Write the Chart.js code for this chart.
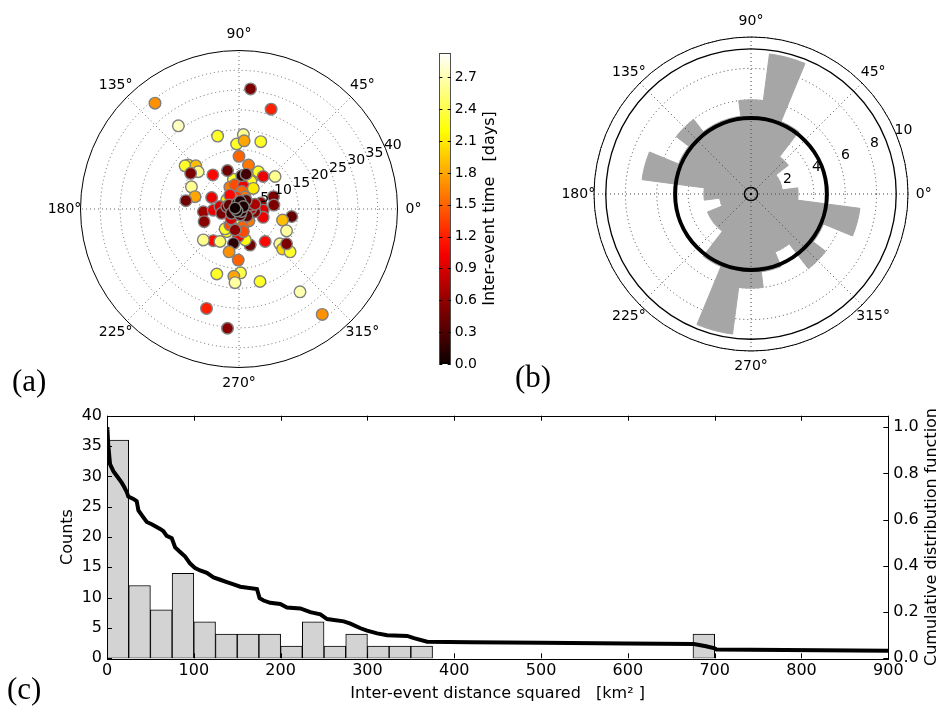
<!DOCTYPE html>
<html>
<head>
<meta charset="utf-8">
<script src="https://cdn.jsdelivr.net/npm/chart.js@4.4.1/dist/chart.umd.min.js"></script>
<style>
  body { margin: 0; background: #fff; width: 939px; height: 707px; position: relative; overflow: hidden; }
  canvas { position: absolute; }
</style>
</head>
<body>
<canvas id="polar" width="430" height="400" style="left:0;top:0"></canvas>
<canvas id="cbar" width="100" height="400" style="left:430px;top:0"></canvas>
<canvas id="rose" width="469" height="400" style="left:470px;top:0"></canvas>
<canvas id="hist" width="939" height="307" style="left:0;top:400px"></canvas>
<script>
// (a) event positions relative to the reference event (east / north, same units as r) and time gap
const pointEast = [2.9, 8.1, -21.2, -15.3, -5.4, 1.1, 5.5, -0.6, 1.3, 0.0, 2.4, -12.8, -13.6, -10.9, -10.3, -12.2, -6.6, -1.4, 3.6, 4.9,
  3.0, 6.1, 9.1, -2.9, -12.0, -11.1, -13.4, -2.3, -1.0, 1.1, 3.6, 0.7, 1.5, -0.6, -1.4, -3.1, -6.9, -2.3, 8.7, 8.8,
  5.5, 6.1, 6.1, 13.3, 11.0, 12.0, 10.3, 11.0, 12.9, 12.0, 6.6, 2.8, 1.6, -0.2, -3.1, -3.5, -2.3, -1.5, 0.6, 2.5,
  0.9, 1.1, -1.0, -6.5, -9.0, -4.8, -1.4, -2.5, -0.2, -5.6, 0.4, -1.3, -1.0, 5.3, 15.4, 21.0, -8.2, -2.9, -9.0, -8.8,
  -6.5, -4.8, -4.4, -3.1, -2.0, 4.0, 3.0, 2.8, 4.0, 2.0, -2.5, 1.8, 0.7, 1.8, -1.9, 0.3, -0.4, 0.3, 0.6, 1.1,
  -0.5, -1.0];
const pointNorth = [30.3, 25.2, 26.7, 21.0, 18.4, 18.8, 17.0, 16.4, 17.2, 13.3, 11.1, 11.1, 10.9, 10.9, 9.4, 9.0, 8.6, 7.5, 8.2, 9.4,
  7.0, 8.2, 8.2, 9.7, 5.6, 3.1, 2.1, 5.5, 6.1, 5.8, 5.2, 4.4, 3.0, 3.0, 2.3, 2.3, 2.9, 3.5, 3.1, 1.0,
  1.5, -0.3, -2.1, -1.9, -2.8, -5.5, -8.8, -10.1, -10.8, -8.8, -8.2, -9.1, -7.8, -7.0, -5.7, -5.0, -4.0, -3.0, -3.0, -3.0,
  -4.5, -5.7, -5.3, -8.0, -7.8, -8.2, -8.7, -10.8, -12.9, -16.4, -16.1, -17.0, -18.6, -18.3, -20.9, -26.6, -25.1, -30.1, -0.7, -3.2,
  -0.3, 0.6, -1.1, 0.6, -2.5, -0.7, 0.0, 1.0, 1.2, -1.8, 1.0, 2.2, 8.4, 8.8, -1.1, -1.5, 1.4, 1.9, -0.6, 0.6,
  -0.5, 0.2];
const pointDays = [0.5, 1.2, 1.7, 2.75, 2.3, 2.6, 2.3, 2.3, 1.8, 1.5, 1.6, 2.1, 2.3, 1.9, 2.6, 0.5, 1.1, 2.3, 2.2, 2.3,
  2.3, 1.0, 2.6, 0.45, 2.6, 1.8, 0.45, 1.6, 1.4, 1.0, 2.1, 1.5, 1.6, 1.3, 1.6, 2.1, 1.0, 1.1, 0.5, 0.5,
  0.6, 0.9, 1.0, 0.4, 1.9, 2.65, 2.6, 2.0, 2.3, 0.5, 1.1, 0.45, 2.2, 1.0, 2.2, 2.3, 1.4, 1.8, 2.2, 1.6,
  1.5, 1.4, 0.55, 1.1, 2.6, 2.5, 0.15, 1.7, 1.5, 2.3, 2.4, 1.8, 2.65, 2.3, 2.7, 1.7, 1.2, 0.55, 0.65, 0.55,
  1.0, 0.9, 0.5, 0.45, 0.9, 0.5, 0.8, 0.6, 0.7, 0.35, 0.4, 0.3, 0.15, 0.25, 0.2, 0.25, 0.1, 0.08, 0.12, 0.08,
  0.05, 0.03];
const polarRings = [5, 10, 15, 20, 25, 30, 35, 40];
const polarAngles = [0, 45, 90, 135, 180, 225, 270, 315];
const daysMax = 2.93;
const daysTicks = [0, 0.3, 0.6, 0.9, 1.2, 1.5, 1.8, 2.1, 2.4, 2.7];

// (b) azimuth histogram, 15 degree bins centred on 0, 15, ..., 345 degrees
const roseBinCentres = [0, 15, 30, 45, 60, 75, 90, 105, 120, 135, 150, 165, 180, 195, 210, 225, 240, 255, 270, 285, 300, 315, 330, 345];
const roseCounts = [3, 2, 2, 3, 5, 9, 6, 5, 5, 6, 5, 7, 3, 2, 3, 3, 5, 9, 6, 5, 4, 6, 5, 7];
const roseRings = [2, 4, 6, 8, 10];
const roseLevel = 9.25;

// (c) histogram of squared inter-event distance, 25 km^2 bins, plus survival curve
const distBinStarts = [0, 25, 50, 75, 100, 125, 150, 175, 200, 225, 250, 275, 300, 325, 350, 375, 400, 425, 450, 475, 500, 525, 550, 575, 600, 625, 650, 675];
const distCounts = [36, 12, 8, 14, 6, 4, 4, 4, 2, 6, 2, 4, 2, 2, 2, 0, 0, 0, 0, 0, 0, 0, 0, 0, 0, 0, 0, 4];
const cdfX = [0, 0.5, 1.5, 3.5, 7.3, 11.2, 16.9, 20, 22.7, 24.6, 30.4, 34.2, 36.2, 41.9, 45.8, 51.5, 61.2, 65, 68.8, 74.6,
  78.5, 84.2, 90, 95.8, 101.5, 107.3, 115, 122.7, 130.4, 138, 145.8, 153.5, 172.7, 175.8, 180.4, 188, 199.6, 207.3, 222.7, 234.2,
  245.8, 253.5, 272.7, 280.4, 292, 299.6, 311.2, 322.7, 345.8, 353.5, 368.8, 419, 500, 600, 676, 690, 700, 702, 900];
const cdfY = [1.0, 0.99, 0.92, 0.84, 0.81, 0.79, 0.76, 0.74, 0.72, 0.70, 0.69, 0.68, 0.64, 0.61, 0.59, 0.58, 0.56, 0.55, 0.53, 0.52,
  0.48, 0.46, 0.44, 0.41, 0.39, 0.38, 0.37, 0.35, 0.34, 0.33, 0.32, 0.31, 0.30, 0.26, 0.25, 0.24, 0.235, 0.22, 0.216, 0.20,
  0.19, 0.17, 0.16, 0.15, 0.13, 0.12, 0.108, 0.10, 0.097, 0.087, 0.072, 0.069, 0.067, 0.064, 0.062, 0.052, 0.043, 0.038, 0.033];
const distTicks = [0, 100, 200, 300, 400, 500, 600, 700, 800, 900];
const countTicks = [0, 5, 10, 15, 20, 25, 30, 35, 40];
const cdfTicks = [0, 0.2, 0.4, 0.6, 0.8, 1.0];

Chart.defaults.font.family = '"DejaVu Sans", sans-serif';
Chart.defaults.color = '#000';

// matplotlib "hot" colormap
function hot(t) {
  t = Math.max(0, Math.min(1, t));
  const r = Math.min(1, 0.0416 + t / 0.365079 * 0.9584);
  const g = Math.max(0, Math.min(1, (t - 0.365079) / 0.380953));
  const b = Math.max(0, Math.min(1, (t - 0.746032) / 0.253968));
  return 'rgb(' + Math.round(r * 255) + ',' + Math.round(g * 255) + ',' + Math.round(b * 255) + ')';
}

function circle(ctx, x, y, rad) {
  ctx.beginPath();
  ctx.arc(x, y, rad, 0, Math.PI * 2);
  ctx.stroke();
}

function polarLabels(ctx, cx, cy, R, ringPx, ringText) {
  ctx.fillStyle = '#000';
  ctx.font = '14px "DejaVu Sans"';
  ctx.textAlign = 'center';
  ctx.textBaseline = 'middle';
  polarAngles.forEach(a => {
    const t = a * Math.PI / 180;
    ctx.fillText(a + '°', cx + (R + 16) * Math.cos(t), cy - (R + 16) * Math.sin(t));
  });
  const t = 22.5 * Math.PI / 180;
  ringPx.forEach((p, i) => {
    ctx.fillText(ringText[i], cx + (p + 8) * Math.cos(t), cy - (p + 8) * Math.sin(t));
  });
}

// ---------- (a) polar scatter ----------
const polarGrid = {
  id: 'polarGrid',
  beforeDatasetsDraw(chart) {
    const {ctx, scales: {x, y}} = chart;
    const cx = x.getPixelForValue(0), cy = y.getPixelForValue(0);
    const R = x.getPixelForValue(40) - cx;
    ctx.save();
    ctx.strokeStyle = '#666';
    ctx.lineWidth = 1;
    ctx.setLineDash([1, 3]);
    polarRings.slice(0, -1).forEach(r => circle(ctx, cx, cy, x.getPixelForValue(r) - cx));
    ctx.beginPath();
    polarAngles.forEach(a => {
      const t = a * Math.PI / 180;
      ctx.moveTo(cx, cy);
      ctx.lineTo(cx + R * Math.cos(t), cy - R * Math.sin(t));
    });
    ctx.stroke();
    ctx.setLineDash([]);
    ctx.strokeStyle = '#000';
    circle(ctx, cx, cy, R);
    ctx.restore();
  },
  afterDraw(chart) {
    const {ctx, scales: {x, y}} = chart;
    const cx = x.getPixelForValue(0), cy = y.getPixelForValue(0);
    const R = x.getPixelForValue(40) - cx;
    ctx.save();
    polarLabels(ctx, cx, cy, R, polarRings.map(r => x.getPixelForValue(r) - cx), polarRings.map(String));
    ctx.font = '31px "Liberation Serif"';
    ctx.textAlign = 'left';
    ctx.textBaseline = 'alphabetic';
    ctx.fillText('(a)', 12, 391);
    ctx.restore();
  }
};

const eventPoints = pointEast.map((e, i) => ({x: e, y: pointNorth[i]}));

new Chart(document.getElementById('polar'), {
  type: 'scatter',
  data: {
    datasets: [{
      data: eventPoints,
      pointBackgroundColor: pointDays.map(d => hot(d / daysMax)),
      pointBorderColor: '#808080',
      pointBorderWidth: 1.4,
      pointRadius: 5.8,
      clip: false
    }, {
      data: eventPoints,
      pointBackgroundColor: '#000',
      pointBorderWidth: 0,
      pointRadius: 0.7,
      clip: false
    }]
  },
  options: {
    responsive: false,
    animation: false,
    layout: {padding: {left: 80.5, right: 32.5, top: 50.5, bottom: 32.5}},
    scales: {
      x: {type: 'linear', min: -40, max: 40, display: false},
      y: {type: 'linear', min: -40, max: 40, display: false}
    },
    plugins: {legend: {display: false}, tooltip: {enabled: false}}
  },
  plugins: [polarGrid]
});

// ---------- colour bar ----------
const cbarDecor = {
  id: 'cbarDecor',
  afterDraw(chart) {
    const {ctx, chartArea: a, scales: {y}} = chart;
    ctx.save();
    ctx.strokeStyle = '#000';
    ctx.lineWidth = 1;
    ctx.beginPath();
    daysTicks.forEach(v => {
      const py = Math.round(y.getPixelForValue(v)) + 0.5;
      ctx.moveTo(a.left, py); ctx.lineTo(a.left + 3, py);
      ctx.moveTo(a.right, py); ctx.lineTo(a.right - 3, py);
    });
    ctx.stroke();
    ctx.fillStyle = '#000';
    ctx.font = '16px "DejaVu Sans"';
    ctx.textAlign = 'center';
    ctx.textBaseline = 'middle';
    ctx.translate(60, (a.top + a.bottom) / 2);
    ctx.rotate(-Math.PI / 2);
    ctx.fillText('Inter-event time   [days]', 0, 0);
    ctx.restore();
  }
};

new Chart(document.getElementById('cbar'), {
  type: 'bar',
  data: {
    labels: [''],
    datasets: [{
      data: [[0, daysMax]],
      backgroundColor: (c) => {
        const area = c.chart.chartArea;
        if (!area) return '#000';
        const g = c.chart.ctx.createLinearGradient(0, area.bottom, 0, area.top);
        for (let i = 0; i <= 20; i++) g.addColorStop(i / 20, hot(i / 20));
        return g;
      },
      borderColor: '#000',
      borderWidth: 1,
      borderSkipped: false,
      barPercentage: 1,
      categoryPercentage: 1
    }]
  },
  options: {
    responsive: false,
    animation: false,
    layout: {padding: {left: 9.3, right: 0, top: 53, bottom: 36}},
    scales: {
      x: {display: false},
      y: {
        position: 'right', min: 0, max: daysMax,
        afterBuildTicks: s => { s.ticks = daysTicks.map(v => ({value: v})); },
        ticks: {callback: v => v.toFixed(1), font: {size: 14}, color: '#000', padding: 4},
        grid: {display: false, drawTicks: false},
        border: {display: false},
        afterFit: s => { s.width = 79.3; }
      }
    },
    plugins: {legend: {display: false}, tooltip: {enabled: false}}
  },
  plugins: [cbarDecor]
});

// ---------- (b) rose diagram ----------
// polarArea runs clockwise from the top, so start at the 0 deg bin and walk backwards
const roseOrder = roseBinCentres.map((c, k) => (24 - k) % 24);
const meanCount = roseCounts.reduce((s, v) => s + v, 0) / roseCounts.length;

const roseOverlay = {
  id: 'roseOverlay',
  afterDraw(chart) {
    const r = chart.scales.r;
    const ctx = chart.ctx;
    const cx = r.xCenter, cy = r.yCenter;
    const d = v => r.getDistanceFromCenterForValue(v);
    const R = d(10);
    ctx.save();
    ctx.strokeStyle = '#444';
    ctx.lineWidth = 1;
    ctx.setLineDash([1, 3]);
    ctx.beginPath();
    polarAngles.forEach(a => {
      const t = a * Math.PI / 180;
      ctx.moveTo(cx, cy);
      ctx.lineTo(cx + R * Math.cos(t), cy - R * Math.sin(t));
    });
    ctx.stroke();
    ctx.setLineDash([]);
    ctx.strokeStyle = '#000';
    ctx.lineWidth = 1;
    circle(ctx, cx, cy, R);
    ctx.lineWidth = 1.3;
    circle(ctx, cx, cy, d(roseLevel));
    ctx.lineWidth = 4;
    circle(ctx, cx, cy, d(meanCount));
    ctx.lineWidth = 1.5;
    circle(ctx, cx, cy, d(0.42));
    ctx.fillStyle = '#000';
    ctx.beginPath();
    ctx.arc(cx, cy, 1.3, 0, Math.PI * 2);
    ctx.fill();
    polarLabels(ctx, cx, cy, d(roseLevel) + 11.5, roseRings.map(v => d(v)), roseRings.map(String));
    ctx.font = '31px "Liberation Serif"';
    ctx.textAlign = 'left';
    ctx.textBaseline = 'alphabetic';
    ctx.fillText('(b)', 45, 387);
    ctx.restore();
  }
};

new Chart(document.getElementById('rose'), {
  type: 'polarArea',
  data: {
    labels: roseOrder.map(i => roseBinCentres[i] + '°'),
    datasets: [{
      data: roseOrder.map(i => roseCounts[i]),
      backgroundColor: '#a6a6a6',
      borderColor: '#a6a6a6',
      borderWidth: 1
    }]
  },
  options: {
    responsive: false,
    animation: false,
    layout: {padding: {left: 124, right: 30, top: 36.5, bottom: 48.5}},
    scales: {
      r: {
        min: 0, max: 10, startAngle: 82.5, z: 1,
        ticks: {display: false, stepSize: 2},
        grid: {circular: true, color: '#444', lineWidth: 1},
        border: {dash: [1, 3]},
        angleLines: {display: false},
        pointLabels: {display: false}
      }
    },
    plugins: {legend: {display: false}, tooltip: {enabled: false}}
  },
  plugins: [roseOverlay]
});

// ---------- (c) histogram + cumulative curve ----------
const histFrame = {
  id: 'histFrame',
  afterDraw(chart) {
    const {ctx, chartArea: a, scales: {x, y, y1}} = chart;
    ctx.save();
    ctx.strokeStyle = '#000';
    ctx.lineWidth = 1;
    ctx.beginPath();
    distTicks.forEach(v => {
      const px = Math.round(x.getPixelForValue(v)) + 0.5;
      ctx.moveTo(px, a.bottom); ctx.lineTo(px, a.bottom - 5);
      ctx.moveTo(px, a.top); ctx.lineTo(px, a.top + 5);
    });
    countTicks.forEach(v => {
      const py = Math.round(y.getPixelForValue(v)) + 0.5;
      ctx.moveTo(a.left, py); ctx.lineTo(a.left + 5, py);
    });
    cdfTicks.forEach(v => {
      const py = Math.round(y1.getPixelForValue(v)) + 0.5;
      ctx.moveTo(a.right, py); ctx.lineTo(a.right - 5, py);
    });
    ctx.stroke();
    ctx.strokeRect(Math.round(a.left) + 0.5, Math.round(a.top) + 0.5, Math.round(a.right - a.left), Math.round(a.bottom - a.top));
    ctx.fillStyle = '#000';
    ctx.font = '31px "Liberation Serif"';
    ctx.textAlign = 'left';
    ctx.textBaseline = 'alphabetic';
    ctx.fillText('(c)', 7, 299);
    ctx.font = '16px "DejaVu Sans"';
    ctx.textAlign = 'center';
    ctx.textBaseline = 'middle';
    ctx.translate(931.7, (a.top + a.bottom) / 2);
    ctx.rotate(-Math.PI / 2);
    ctx.fillText('Cumulative distribution function', 0, 0);
    ctx.restore();
  }
};

new Chart(document.getElementById('hist'), {
  type: 'bar',
  data: {
    datasets: [{
      type: 'line',
      data: cdfX.map((v, i) => ({x: v, y: cdfY[i]})),
      yAxisID: 'y1',
      borderColor: '#000',
      borderWidth: 4,
      pointRadius: 0,
      tension: 0,
      order: 0
    }, {
      type: 'bar',
      data: distBinStarts.map((s, i) => ({x: s + 12.5, y: distCounts[i] || null})),
      yAxisID: 'y',
      backgroundColor: '#d3d3d3',
      borderColor: '#000',
      borderWidth: 1,
      borderSkipped: false,
      barPercentage: 1,
      categoryPercentage: 1,
      order: 1
    }]
  },
  options: {
    responsive: false,
    animation: false,
    layout: {padding: {left: 54.4, right: 0, top: 15.7, bottom: 0}},
    scales: {
      x: {
        type: 'linear', min: 0, max: 900, offset: false,
        afterBuildTicks: s => { s.ticks = distTicks.map(v => ({value: v})); },
        ticks: {font: {size: 16}, color: '#000', padding: 3, maxRotation: 0, autoSkip: false},
        grid: {display: false, drawTicks: false},
        border: {display: false},
        title: {display: true, text: 'Inter-event distance squared   [km² ]', font: {size: 16}, color: '#000', padding: {top: 4, bottom: 4}},
        afterFit: s => { s.height = 48.7; }
      },
      y: {
        position: 'left', min: 0, max: 40,
        afterBuildTicks: s => { s.ticks = countTicks.map(v => ({value: v})); },
        ticks: {font: {size: 16}, color: '#000', padding: 5},
        grid: {display: false, drawTicks: false},
        border: {display: false},
        title: {display: true, text: 'Counts', font: {size: 16}, color: '#000', padding: {top: 4, bottom: 4}},
        afterFit: s => { s.width = 52.6; }
      },
      y1: {
        position: 'right', min: 0, max: 1.05,
        afterBuildTicks: s => { s.ticks = cdfTicks.map(v => ({value: v})); },
        ticks: {callback: v => v.toFixed(1), font: {size: 16}, color: '#000', padding: 5},
        grid: {display: false, drawTicks: false},
        border: {display: false},
        afterFit: s => { s.width = 50.7; }
      }
    },
    plugins: {legend: {display: false}, tooltip: {enabled: false}}
  },
  plugins: [histFrame]
});
</script>
</body>
</html>
